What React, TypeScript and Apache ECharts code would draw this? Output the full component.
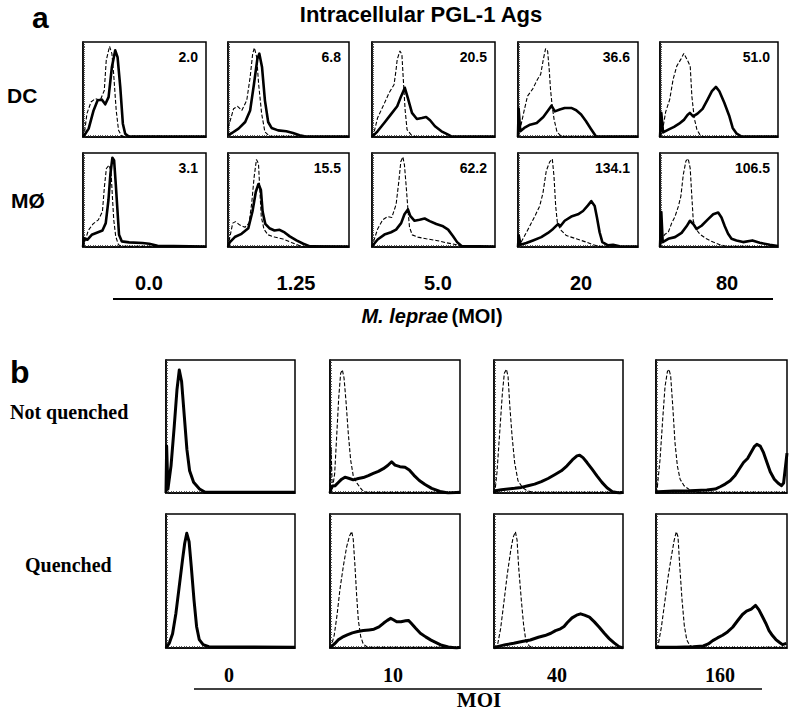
import React, { useEffect, useRef } from "react";
import * as echarts from "echarts";

// ---------- labels ----------
const aColumns = ["0.0", "1.25", "5.0", "20", "80"];
const aRowLabels = ["DC", "MØ"];
const dcValues = ["2.0", "6.8", "20.5", "36.6", "51.0"];
const moValues = ["3.1", "15.5", "62.2", "134.1", "106.5"];
const bColumns = ["0", "10", "40", "160"];
const bRowLabels = ["Not quenched", "Quenched"];

// ---------- histogram data: [channel %, relative count %] ----------
// Panel a, DC row
const dcDash0 = [[0,0],[1.1,3.5],[3.2,24.6],[6.5,36.8],[10,40.4],[14,38.6],[17.3,49],[18.9,80.7],[21.6,95.4],[23.5,87.7],[24.9,66.7],[27,28],[28.9,7],[31.6,0.7],[100,0.5]];
const dcSolid0 = [[0,0],[1.9,3.5],[4.6,8.8],[8.6,28],[11.9,38.6],[15.4,39.3],[18.1,34.4],[20.8,42],[23.5,73.7],[26.2,91.2],[28.1,84],[30.3,52.6],[32.4,14],[34.3,3.5],[37,0.7],[100,0.5]];
const dcDash1 = [[0,10],[1.9,17.5],[4.6,29.8],[7.9,32.3],[11.4,28],[15.5,38.6],[18.3,63],[20.4,87.7],[21.8,94],[23.7,84],[25.3,56],[27.8,24.6],[30.5,5.3],[34.6,0.7],[100,0.5]];
const dcSolid1 = [[0,2],[3.3,4.2],[8.7,8.8],[14.2,15.8],[18.3,28],[21.5,56],[24.3,82.5],[25.9,87.7],[28.1,73.7],[30.5,38.6],[33.2,15.8],[36,9.5],[41.4,7],[48.2,6],[53.7,4.2],[59.1,1.8],[63.2,0.7],[100,0.5]];
const dcDash2 = [[0,0],[1.5,4],[4.5,20],[9.9,35],[13.9,46.5],[17.9,55],[19.5,70],[20.5,81.7],[22.7,90.5],[24.3,87],[25.3,64],[26.9,28.9],[28.5,7.7],[31.7,2.5],[35.2,0],[100,0.5]];
const dcSolid2 = [[0,0],[1.9,2.5],[4.5,6],[9.9,14.8],[15.2,23.6],[20.5,32.4],[23.7,43],[26.7,51.8],[29.1,41.2],[32.5,25.4],[36.5,19],[40.5,20],[44,21],[47.2,17.6],[51.2,11.3],[56.5,6],[61.9,2.5],[64.5,0.7],[100,0.5]];
const dcDash3 = [[0,0],[1.4,6],[4.7,25.4],[7.9,43],[12.3,50.7],[16.2,60.6],[18.9,66],[21.1,81.7],[23,93],[24.7,90.5],[26,71],[27.1,50],[28.5,32.4],[30.1,18.3],[32.6,4.9],[36.2,0.7],[100,0.5]];
const dcSolid3 = [[0,0],[0.5,30],[1.9,6],[5.2,9.5],[10.1,13],[15.6,14.8],[21.1,21],[25.2,28.2],[27.9,33],[30.7,27],[34.8,29],[38.9,30.6],[44.4,30.6],[48.5,28.2],[52.6,23.6],[56.7,16.5],[60.8,8.5],[64.9,0.7],[100,0.5]];
const dcDash4 = [[0,0],[2,6],[4.8,26.4],[8.2,39.4],[11.1,60.6],[14.2,74.6],[17.6,81.7],[20.2,88],[23.3,80.6],[25.6,74.6],[27,43],[29,20],[31.3,7.7],[33.8,2.5],[37.5,0],[100,0.5]];
const dcSolid4 = [[0,0],[1.1,25.4],[2.6,4.9],[7.1,7.7],[11.9,10.6],[16.2,14],[20.5,18.3],[23.3,23.2],[25.3,25.4],[28.1,21.8],[31.8,24.6],[36.1,29.6],[40.3,39.4],[44,48.2],[47.4,52.8],[50.3,48.2],[54.5,36],[58.8,21.8],[61.6,9.5],[65,3.5],[68.8,0.7],[100,0.5]];

// Panel a, MØ row
const moDash0 = [[0,0],[1.6,6],[4.3,17.6],[8.2,24.6],[12.5,28.9],[15.8,37.7],[17.4,64],[19,83.5],[21.2,87],[22.8,80],[23.9,53.5],[25,28.9],[26.6,11.3],[28.8,2.5],[31.5,0.7],[100,0.5]];
const moSolid0 = [[0,0],[0.8,9.5],[3.5,7.7],[7.1,13],[11.7,15.5],[15.8,17.6],[18.5,25.4],[20.7,50],[22.3,78],[23.9,95],[25.3,92],[26.6,67.6],[28,39.4],[29.3,13],[31.5,6],[37.5,4.9],[48.4,4.2],[53.8,3.5],[60.6,1.4],[100,0.5]];
const moDash1 = [[0,0],[1.1,7.7],[3.9,25.4],[6.2,27],[9.5,23.6],[14,21],[17.4,25.4],[19.6,46.5],[21.6,74.6],[23.5,93],[25.2,88.7],[26.3,60.6],[27.5,32.4],[29.7,19],[33,13],[38.4,10.6],[45.4,8.5],[52.4,4.9],[59.4,1.4],[63.6,0],[100,0.5]];
const moSolid1 = [[0,0],[1.4,4.9],[5.6,10.6],[11.2,14],[16.8,20],[20.2,37.7],[23,58.8],[25.2,67],[27.2,60.6],[28.6,37.7],[30.8,24.6],[34.2,20],[38.4,17.6],[42.6,18.3],[46.8,15.5],[51,11.3],[56.6,7],[62.2,3.5],[67.8,0.7],[100,0.5]];
const moDash2 = [[0,0],[1.1,5.2],[4.6,19.2],[8.7,29],[12.8,32.4],[16.1,31.4],[19.6,45.3],[21.8,69.7],[23.4,90.6],[25.1,95.8],[26.4,87],[27.8,64.5],[29.2,40],[30.5,21],[32.7,12.9],[37.3,10.5],[44.1,8.7],[52.3,7],[60.5,4.5],[68.7,2.4],[74.1,0.7],[100,0.5]];
const moSolid2 = [[0,0],[1.1,2.4],[4.6,8],[10.1,13.2],[15.5,15.7],[19.6,18.5],[23.7,25.4],[26.4,34.8],[29.2,40],[31.1,33],[34.6,27.9],[38.7,28.9],[42.8,30.3],[46.9,27.5],[52.3,24.4],[57.8,22],[61.9,18.5],[65.9,11.5],[69.2,5.2],[72.8,1],[100,0.5]];
const moDash3 = [[0,0],[1.4,2.4],[5.6,12.2],[9.7,22],[13.9,32.4],[18.1,43.6],[20.8,57.5],[23.6,81.2],[26.4,90.6],[28.6,93.7],[30,74.9],[31.4,43.6],[32.8,26],[35.3,18.5],[40.3,12.2],[48.6,8.7],[56.9,5.2],[62.5,2.4],[68,0.7],[100,0.5]];
const moSolid3 = [[0,0],[0.6,12.2],[2.2,2.4],[6.9,4.2],[12.5,7],[19.4,10.5],[25,15],[29.2,19.2],[33.3,24.4],[35.3,22],[38.9,27.9],[44.4,32.4],[50,34.8],[54.2,38.3],[58.3,44.3],[61.1,48.8],[63.9,43.6],[65.8,31.4],[68,15.7],[70.3,5.2],[75,1.7],[79.2,2.4],[84.7,0.7],[100,0.5]];
const moDash4 = [[0,0],[1.4,8.7],[4.2,13.6],[7,15.7],[9.9,25.4],[12.7,32.4],[15.5,42.9],[17.7,54],[19.7,76.7],[22,91.6],[23.9,94],[25.6,83.6],[26.8,57.5],[28.2,27.9],[30.4,19.2],[33.8,13.6],[39.4,8.7],[45.1,5.2],[50.7,2.4],[56.3,0.7],[100,0.5]];
const moSolid4 = [[0,0],[1.1,37.3],[2.3,5.2],[7,8.7],[12.7,10.5],[18.3,15],[22.5,22],[25.4,27.9],[28.2,24.4],[31,19.2],[35.2,22.6],[40.8,29.6],[45.1,34.8],[49.3,36.6],[52.1,31.4],[54.9,22],[57.7,14],[60.6,8.7],[64.8,7],[70.4,5.2],[78.3,7],[84.5,4.5],[93,2.4],[100,1]];

// Panel b, not quenched
const nqSolid0 = [[0,0],[0.5,35.3],[1.5,3],[3.9,20.4],[6.4,50.2],[8.5,77.6],[10.3,92.5],[12.1,83.8],[14.2,57.7],[16.2,32.8],[18.3,16.7],[21.4,8],[26,3],[30.4,0.5],[100,0.5]];
const nqDash1 = [[0,0],[0.8,34.6],[1.8,2.5],[3.6,14.8],[5.1,42],[6.7,71.6],[8.2,90],[9.5,92.6],[10.8,86.4],[12.3,69],[14.1,44.4],[15.9,24.7],[17.9,12.8],[21,7],[24.4,2.5],[27.7,0.5],[100,0.5]];
const nqSolid1 = [[0,0],[1.3,5],[3.8,5.4],[6.4,7.9],[9,10.4],[11.5,11.9],[14.9,10.9],[17.9,9.9],[21.8,10.9],[25.6,11.6],[29.5,13.1],[33.3,14.8],[37.2,16.3],[41,18.3],[44.4,20.7],[47.4,23.5],[50,21],[53.8,19.8],[57.7,19.3],[61,17.3],[64.6,13.3],[68.7,9.4],[73.1,6.4],[78.2,3.5],[84.6,1.2],[91,0],[100,0.5]];
const nqDash2 = [[0,0],[0.8,1.7],[2.3,15.4],[4.4,45.3],[6.5,75.1],[8,90],[9.6,93],[10.9,87.6],[12.1,67.7],[14,42.8],[16,22.9],[18.6,9.2],[22,4.2],[25.6,1.7],[30.2,0.5],[100,0.5]];
const nqSolid2 = [[0,0],[1.3,1.7],[5.7,2.5],[10.9,3],[16,3.5],[21.2,4.2],[26.4,5.5],[31.5,6.7],[36.7,8.5],[41.9,10.9],[47,13.7],[52.2,16.7],[56.6,20.4],[60.7,24.9],[64.3,27.9],[66.4,28.4],[69,26.6],[72.1,22.9],[76,17.9],[79.8,12.9],[83.7,8],[87.6,4],[91.7,1],[97.4,0],[100,0.5]];
const nqDash3 = [[0,0],[1,4.2],[3.1,25.4],[5.1,55.2],[6.9,80.1],[8.7,91.3],[9.9,93],[11.2,88],[12.8,65.2],[14.5,37.8],[16.3,20.4],[18.4,10.4],[21.4,5.5],[25.5,2.5],[31.1,0.5],[100,0.5]];
const nqSolid3 = [[0,0],[1.8,1],[13.3,1.5],[26,1.7],[38.8,2.2],[45.2,3],[49,4.7],[52.8,6.7],[56.6,9.2],[60.5,13.4],[63.8,18.4],[66.8,22.9],[69.9,25.9],[72.4,30.3],[75,34.8],[77,36.6],[79.6,35.3],[82.1,30.3],[84.7,22.9],[87.2,15.9],[90.3,10.4],[93.1,7.5],[95.7,5.5],[97.4,7.5],[99.2,22.9],[100,30]];

// Panel b, quenched
const qSolid0 = [[0,0],[0.8,1.2],[2.6,3.7],[5.1,10.7],[7.7,26],[10.2,45.4],[12.8,65.8],[14.5,78.2],[16.1,85.6],[17.9,79.4],[19.6,60.8],[21.7,36],[23.7,16.1],[25.8,6.2],[28.8,2.5],[33.2,1],[100,0.5]];
const qDash1 = [[0,0],[1.3,2.5],[3.3,9.8],[5.4,24.5],[7.7,44.1],[10.3,61.3],[12.8,75.5],[15.1,83.8],[16.7,87],[17.9,80.9],[19.2,61.3],[20.5,39.2],[21.8,20.8],[23.6,8.6],[25.6,2.9],[29,0.5],[100,0.5]];
const qSolid1 = [[0,0],[1.3,1.2],[3.8,3.4],[6.4,6.1],[9.5,8.1],[13.3,9.8],[17.2,11.3],[21.3,12.3],[25.6,13],[30,13.5],[33.8,14],[37.7,15.7],[41.3,18.6],[44.1,20.6],[46.7,22.1],[48.7,21.1],[51.3,19.6],[54.6,19.6],[58.2,20.3],[60.3,20.6],[62.3,18.6],[65.9,14.7],[69.5,11],[73.6,8.3],[77.7,5.9],[82,3.9],[85.9,2],[91,0.7],[97.4,0],[100,0.5]];
const qDash2 = [[0,0],[2.6,1.5],[5.1,14.3],[7.7,34.3],[10.2,54.3],[12.8,71.8],[14.8,82.5],[16.6,86.8],[17.9,80.5],[19.1,60.5],[21.2,35.5],[23,16.8],[24.7,5.5],[27.3,1.5],[30.6,0],[100,0.5]];
const qSolid2 = [[0,0],[2.6,1],[8.9,2.5],[15.3,3.5],[21.7,4.8],[28.1,6],[34.4,8],[39.5,9.3],[44.1,11],[47.7,13],[51.5,14.3],[54.3,16],[56.9,19],[60.5,22.5],[64,24.5],[67.1,25.5],[70.2,24.5],[74,23],[77.8,19.5],[81.6,15.5],[85.5,11],[89.3,7],[93.1,3.8],[96.9,1],[100,0]];
const qDash3 = [[0,0],[1.5,1.5],[4.1,15.5],[6.7,34.3],[9.3,53.5],[11.9,69.3],[13.9,80.5],[15.5,86.8],[16.8,83],[18,63],[19.8,36.8],[21.6,16.8],[23.5,6],[25.8,1.8],[29.6,0.2],[100,0.5]];
const qSolid3 = [[0,0],[2.6,0.5],[15.5,0.5],[28.4,1],[36.1,1.5],[39.9,3],[43.3,5.5],[46.9,7.5],[50.8,9.5],[54.6,12],[58.5,15.5],[62.4,20.5],[66,25],[69.1,27.5],[72.7,29],[76,31.8],[78.6,28.5],[81.2,23.5],[83.8,18.5],[86.3,13],[88.9,9.3],[91.5,6.3],[94.1,4.3],[96.6,2.5],[99.5,3.5],[100,3.5]];

const dcDash = [dcDash0, dcDash1, dcDash2, dcDash3, dcDash4];
const dcSolid = [dcSolid0, dcSolid1, dcSolid2, dcSolid3, dcSolid4];
const moDash = [moDash0, moDash1, moDash2, moDash3, moDash4];
const moSolid = [moSolid0, moSolid1, moSolid2, moSolid3, moSolid4];
const nqDash = [null, nqDash1, nqDash2, nqDash3];
const nqSolid = [nqSolid0, nqSolid1, nqSolid2, nqSolid3];
const qDash = [null, qDash1, qDash2, qDash3];
const qSolid = [qSolid0, qSolid1, qSolid2, qSolid3];

// ---------- layout (pixels) ----------
const A_LEFT = [83, 228, 372, 518, 660];
const A_WIDTH = [123, 121, 123, 120, 118];
const A_TOP = [42, 153];
const A_HEIGHT = [95, 94];
const A_LABEL_X = [149, 296, 438, 581, 727];
const B_LEFT = [166, 330, 494, 656];
const B_WIDTH = [129, 130, 129, 131];
const B_TOP = [360, 514];
const B_HEIGHT = [133, 134];
const B_LABEL_X = [229, 393, 557, 720];

const SANS = "'Liberation Sans', Arial, Helvetica, sans-serif";
const SERIF = "'Liberation Serif', 'Times New Roman', serif";

export default function App() {
  const ref = useRef<HTMLDivElement>(null);

  useEffect(() => {
    if (!ref.current) return;
    const chart = echarts.init(ref.current, null, { renderer: "svg" });

    const grids: any[] = [];
    const xAxes: any[] = [];
    const yAxes: any[] = [];
    const series: any[] = [];
    const graphics: any[] = [];

    const addPanel = (
      left: number, top: number, width: number, height: number,
      dash: number[][] | null, solid: number[][], solidWidth: number
    ) => {
      const idx = grids.length;
      grids.push({
        left, top, width, height,
        show: true, borderColor: "#000", borderWidth: 1.5,
        backgroundColor: "transparent", containLabel: false,
      });
      const axisBase = {
        gridIndex: idx, type: "value", min: 0, max: 100, interval: 2,
        axisLine: { show: true, lineStyle: { color: "#000", width: 1.5 } },
        axisTick: { show: true, inside: true, length: 2, lineStyle: { color: "#333", width: 0.8 } },
        axisLabel: { show: false },
        splitLine: { show: false },
      };
      xAxes.push({ ...axisBase });
      yAxes.push({ ...axisBase });
      if (dash) {
        series.push({
          type: "line", xAxisIndex: idx, yAxisIndex: idx, data: dash,
          showSymbol: false, symbol: "none", z: 2,
          lineStyle: { color: "#000", width: 1.1, type: [4, 2] },
        });
      }
      series.push({
        type: "line", xAxisIndex: idx, yAxisIndex: idx, data: solid,
        showSymbol: false, symbol: "none", z: 3,
        lineStyle: { color: "#000", width: solidWidth, join: "round" },
      });
    };

    // panel a
    for (let c = 0; c < 5; c++) {
      addPanel(A_LEFT[c], A_TOP[0], A_WIDTH[c], A_HEIGHT[0], dcDash[c], dcSolid[c], 2.6);
      addPanel(A_LEFT[c], A_TOP[1], A_WIDTH[c], A_HEIGHT[1], moDash[c], moSolid[c], 2.6);
      [dcValues[c], moValues[c]].forEach((v, r) => {
        graphics.push({
          type: "text", x: A_LEFT[c] + A_WIDTH[c] - 8, y: A_TOP[r] + 15,
          style: { text: v, fontFamily: SANS, fontWeight: "bold", fontSize: 14, fill: "#000",
            textAlign: "right", textVerticalAlign: "middle" },
        });
      });
      graphics.push({
        type: "text", x: A_LABEL_X[c], y: 283,
        style: { text: aColumns[c], fontFamily: SANS, fontWeight: "bold", fontSize: 20, fill: "#000",
          textAlign: "center", textVerticalAlign: "middle" },
      });
    }
    // panel b
    for (let c = 0; c < 4; c++) {
      addPanel(B_LEFT[c], B_TOP[0], B_WIDTH[c], B_HEIGHT[0], nqDash[c], nqSolid[c], 3);
      addPanel(B_LEFT[c], B_TOP[1], B_WIDTH[c], B_HEIGHT[1], qDash[c], qSolid[c], 3);
      graphics.push({
        type: "text", x: B_LABEL_X[c], y: 675,
        style: { text: bColumns[c], fontFamily: SERIF, fontWeight: "bold", fontSize: 20, fill: "#000",
          textAlign: "center", textVerticalAlign: "middle" },
      });
    }

    graphics.push(
      { type: "text", x: 32, y: 17, style: { text: "a", fontFamily: SANS, fontWeight: "bold", fontSize: 30, fill: "#000", textAlign: "left", textVerticalAlign: "middle" } },
      { type: "text", x: 421, y: 14, style: { text: "Intracellular PGL-1 Ags", fontFamily: SANS, fontWeight: "bold", fontSize: 22, fill: "#000", textAlign: "center", textVerticalAlign: "middle" } },
      { type: "text", x: 7, y: 95, style: { text: aRowLabels[0], fontFamily: SANS, fontWeight: "bold", fontSize: 21, fill: "#000", textAlign: "left", textVerticalAlign: "middle" } },
      { type: "text", x: 11, y: 200, style: { text: aRowLabels[1], fontFamily: SANS, fontWeight: "bold", fontSize: 21, fill: "#000", textAlign: "left", textVerticalAlign: "middle" } },
      { type: "line", shape: { x1: 113, y1: 299, x2: 773, y2: 299 }, style: { stroke: "#000", lineWidth: 2 } },
      {
        type: "text", x: 432, y: 316,
        style: {
          text: "{i|M. leprae} {n|(MOI)}", textAlign: "center", textVerticalAlign: "middle", fill: "#000",
          rich: {
            i: { fontFamily: SANS, fontWeight: "bold", fontStyle: "italic", fontSize: 20, fill: "#000" },
            n: { fontFamily: SANS, fontWeight: "bold", fontSize: 20, fill: "#000" },
          },
        },
      },
      { type: "text", x: 10, y: 372, style: { text: "b", fontFamily: SANS, fontWeight: "bold", fontSize: 32, fill: "#000", textAlign: "left", textVerticalAlign: "middle" } },
      { type: "text", x: 10, y: 412, style: { text: bRowLabels[0], fontFamily: SERIF, fontWeight: "bold", fontSize: 20, fill: "#000", textAlign: "left", textVerticalAlign: "middle" } },
      { type: "text", x: 25, y: 565, style: { text: bRowLabels[1], fontFamily: SERIF, fontWeight: "bold", fontSize: 20, fill: "#000", textAlign: "left", textVerticalAlign: "middle" } },
      { type: "line", shape: { x1: 194, y1: 689, x2: 762, y2: 689 }, style: { stroke: "#000", lineWidth: 1.5 } },
      { type: "text", x: 479, y: 700, style: { text: "MOI", fontFamily: SERIF, fontWeight: "bold", fontSize: 21, fill: "#000", textAlign: "center", textVerticalAlign: "middle" } },
    );

    chart.setOption({
      animation: false,
      backgroundColor: "#fff",
      grid: grids,
      xAxis: xAxes,
      yAxis: yAxes,
      series,
      graphic: graphics,
    });

    return () => chart.dispose();
  }, []);

  return (
    <div
      ref={ref}
      style={{ position: "absolute", left: 0, top: 0, width: 791, height: 713, background: "#fff" }}
    />
  );
}
